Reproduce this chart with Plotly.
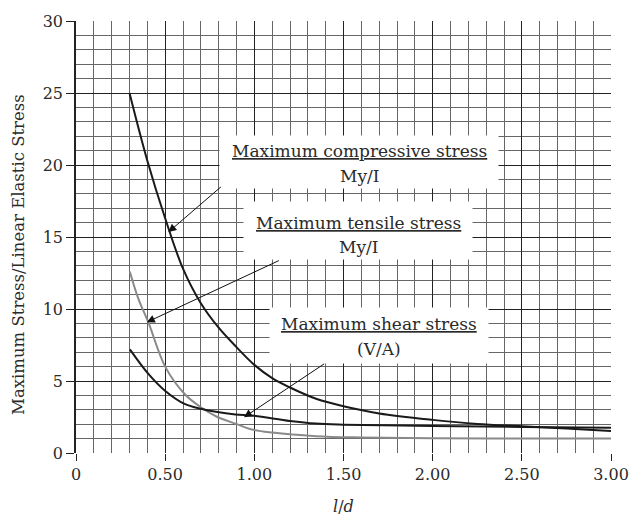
import plotly.graph_objects as go

# ---- data ----
x_comp = [0.3, 0.4, 0.5, 0.6, 0.7, 0.8, 0.9, 1.0, 1.1, 1.2, 1.35, 1.5, 1.7, 2.0, 2.25, 2.5, 2.75, 3.0]
y_comp = [25.0, 20.3, 16.3, 12.8, 10.4, 8.7, 7.35, 6.12, 5.2, 4.55, 3.75, 3.25, 2.75, 2.3, 2.02, 1.86, 1.7, 1.53]

x_tens = [0.302, 0.35, 0.407, 0.5, 0.609, 0.70, 0.793, 0.894, 0.98, 1.1, 1.345, 1.6, 2.0, 2.5, 3.0]
y_tens = [12.59, 10.7, 9.03, 6.0, 4.1, 3.18, 2.5, 2.04, 1.65, 1.42, 1.17, 1.08, 1.03, 1.0, 1.0]

x_shear = [0.302, 0.407, 0.499, 0.609, 0.70, 0.793, 0.894, 1.0, 1.2, 1.345, 1.5, 2.0, 2.5, 3.0]
y_shear = [7.2, 5.48, 4.33, 3.41, 3.07, 2.84, 2.68, 2.58, 2.22, 2.04, 1.97, 1.88, 1.81, 1.75]

x_tickvals = [0, 0.5, 1.0, 1.5, 2.0, 2.5, 3.0]
x_ticktext = ["0", "0.50", "1.00", "1.50", "2.00", "2.50", "3.00"]
y_tickvals = [0, 5, 10, 15, 20, 25, 30]

labels = [
    {"title": "Maximum compressive stress", "sub": "My/I", "x": 1.5875, "y": 20.21,
     "w": 278, "h": 52, "y1": 21.0, "y2": 19.21, "head": (0.518, 15.34), "tail": (0.821, 18.57)},
    {"title": "Maximum tensile stress", "sub": "My/I", "x": 1.582, "y": 15.43,
     "w": 228, "h": 57, "y1": 15.95, "y2": 14.30, "head": (0.397, 9.08), "tail": (1.146, 13.41)},
    {"title": "Maximum shear stress", "sub": "(V/A)", "x": 1.698, "y": 8.17,
     "w": 218, "h": 55, "y1": 8.93, "y2": 7.22, "head": (0.942, 2.48), "tail": (1.40, 6.26)},
]

FONT = "DejaVu Serif"
TXT = "#2a2a2a"

fig = go.Figure()
fig.add_trace(go.Scatter(x=x_comp, y=y_comp, mode="lines", line=dict(color="#1a1a1a", width=2, shape="spline"),
                         name="Maximum compressive stress"))
fig.add_trace(go.Scatter(x=x_tens, y=y_tens, mode="lines", line=dict(color="#8a8a8a", width=2, shape="spline"),
                         name="Maximum tensile stress"))
fig.add_trace(go.Scatter(x=x_shear, y=y_shear, mode="lines", line=dict(color="#1a1a1a", width=2, shape="spline"),
                         name="Maximum shear stress"))

for lab in labels:
    # white label box
    fig.add_annotation(x=lab["x"], y=lab["y"], xref="x", yref="y", text=" ",
                       showarrow=False, bgcolor="white", width=lab["w"], height=lab["h"],
                       borderpad=0, font=dict(family=FONT, size=16))
    fig.add_annotation(x=lab["x"], y=lab["y1"], xref="x", yref="y",
                       text="<u>" + lab["title"] + "</u>", showarrow=False,
                       font=dict(family=FONT, size=17, color=TXT))
    fig.add_annotation(x=lab["x"], y=lab["y2"], xref="x", yref="y",
                       text=lab["sub"], showarrow=False,
                       font=dict(family=FONT, size=17, color=TXT))
    fig.add_annotation(x=lab["head"][0], y=lab["head"][1], ax=lab["tail"][0], ay=lab["tail"][1],
                       xref="x", yref="y", axref="x", ayref="y", text="",
                       showarrow=True, arrowhead=2, arrowsize=1.6, arrowwidth=1, arrowcolor="#111")

# axis titles placed as annotations
fig.add_annotation(text="Maximum Stress/Linear Elastic Stress", xref="paper", yref="paper",
                   x=-0.1085, y=0.4605, textangle=-90, showarrow=False, xanchor="center", yanchor="middle",
                   font=dict(family=FONT, size=16.5, color=TXT))
fig.add_annotation(text="<i>l</i>/<i>d</i>", xref="paper", yref="paper",
                   x=0.5, y=-0.1237, showarrow=False, xanchor="center", yanchor="middle",
                   font=dict(family=FONT, size=16, color=TXT))

fig.update_layout(
    width=641, height=517,
    margin=dict(l=76, r=21, t=16, b=64),
    paper_bgcolor="white", plot_bgcolor="white",
    showlegend=False,
    font=dict(family=FONT, size=16, color=TXT),
)
fig.update_xaxes(range=[0, 3.0], tickvals=x_tickvals, ticktext=x_ticktext,
                 ticks="outside", ticklen=7, tickcolor="#222", tickwidth=1.3,
                 ticklabeloverflow="allow",
                 showgrid=True, gridcolor="#222", gridwidth=1.3,
                 minor=dict(dtick=0.1, showgrid=True, gridcolor="#666", gridwidth=1.2),
                 showline=False, zeroline=False)
fig.update_yaxes(range=[0, 30], tickvals=y_tickvals,
                 ticks="outside", ticklen=8, tickcolor="#222", tickwidth=1.3,
                 ticklabeloverflow="allow",
                 showgrid=True, gridcolor="#222", gridwidth=1.3,
                 minor=dict(dtick=1, showgrid=True, gridcolor="#666", gridwidth=1.2),
                 showline=True, linecolor="#222", linewidth=1.5, zeroline=False)

fig.write_html("out.html", config={"displayModeBar": False},
               post_script="document.body.style.margin='0';")
